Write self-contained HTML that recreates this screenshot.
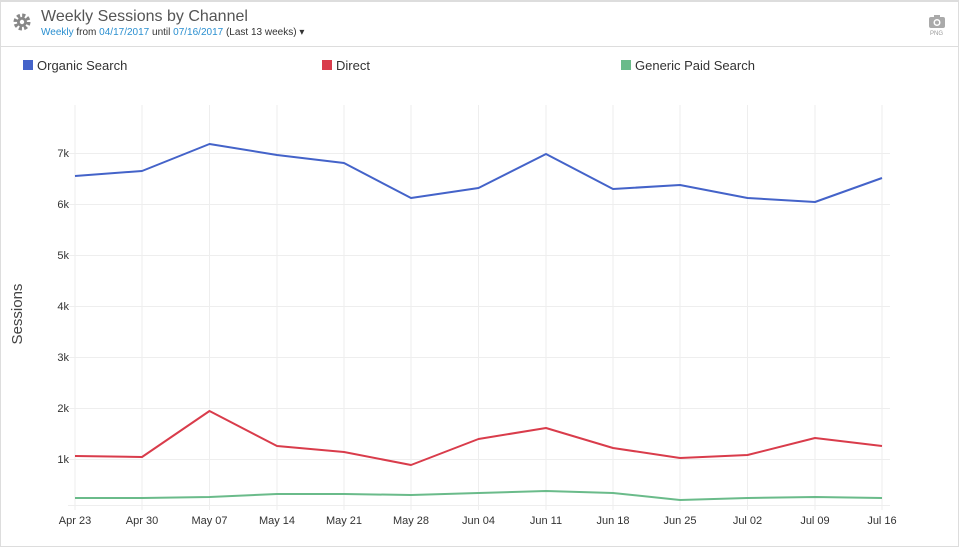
<!DOCTYPE html><html><head><style>
body{margin:0;width:959px;height:546px;background:#fff;font-family:"Liberation Sans",sans-serif;position:relative;overflow:hidden}
.t{position:absolute;left:41px;top:8px;font-size:16px;color:#555}
.s{position:absolute;left:41px;top:27px;font-size:10px;color:#333}
.s b{font-weight:normal;color:#2a8fd0}
</style></head><body>
<div style="position:absolute;left:0;top:0;width:957px;height:544px;border:1px solid #ddd;border-top:2px solid #ddd"></div>
<div style="position:absolute;left:0;top:46px;width:959px;height:1px;background:#ddd"></div>
<svg style="position:absolute;left:12px;top:12px" width="20" height="20" viewBox="0 0 20 20"><circle cx="10" cy="10" r="6.5" fill="none" stroke="#888" stroke-width="4" stroke-dasharray="3 2.1"/><circle cx="10" cy="10" r="5" fill="#888"/><circle cx="10" cy="10" r="2.2" fill="#fff"/></svg>
<div class="t">Weekly Sessions by Channel</div>
<div class="s"><b>Weekly</b> from <b>04/17/2017</b> until <b>07/16/2017</b> (Last 13 weeks) ▾</div>
<svg style="position:absolute;left:928px;top:13px" width="18" height="16"><rect x="1" y="4" width="16" height="11" rx="2" fill="#aaa"/><rect x="6" y="2" width="6" height="3" fill="#aaa"/><circle cx="9" cy="9.5" r="3.5" fill="#fff"/><circle cx="9" cy="9.5" r="2" fill="#aaa"/></svg>
<div style="position:absolute;left:930px;top:31px;font-size:6px;color:#999">PNG</div>
<svg style="position:absolute;left:0;top:0" width="959" height="546" font-family="Liberation Sans, sans-serif">
<g font-size="13" fill="#333">
<rect x="23" y="60" width="10" height="10" fill="#4463c9"/><text x="37" y="70">Organic Search</text>
<rect x="322" y="60" width="10" height="10" fill="#d93c4b"/><text x="336" y="70">Direct</text>
<rect x="621" y="60" width="10" height="10" fill="#6abb8a"/><text x="635" y="70">Generic Paid Search</text>
</g>
<g stroke="#eee" stroke-width="1">
<line x1="68" x2="890" y1="153.5" y2="153.5"/><line x1="68" x2="890" y1="204.5" y2="204.5"/><line x1="68" x2="890" y1="255.5" y2="255.5"/><line x1="68" x2="890" y1="306.5" y2="306.5"/><line x1="68" x2="890" y1="357.5" y2="357.5"/><line x1="68" x2="890" y1="408.5" y2="408.5"/><line x1="68" x2="890" y1="459.5" y2="459.5"/><line x1="68" x2="890" y1="505.5" y2="505.5"/>
<line x1="75" x2="75" y1="105" y2="510"/><line x1="142" x2="142" y1="105" y2="510"/><line x1="209.5" x2="209.5" y1="105" y2="510"/><line x1="277" x2="277" y1="105" y2="510"/><line x1="344" x2="344" y1="105" y2="510"/><line x1="411" x2="411" y1="105" y2="510"/><line x1="478.5" x2="478.5" y1="105" y2="510"/><line x1="546" x2="546" y1="105" y2="510"/><line x1="613" x2="613" y1="105" y2="510"/><line x1="680" x2="680" y1="105" y2="510"/><line x1="747.5" x2="747.5" y1="105" y2="510"/><line x1="815" x2="815" y1="105" y2="510"/><line x1="882" x2="882" y1="105" y2="510"/>
</g>
<g font-size="11" fill="#333" text-anchor="end">
<text x="69" y="157">7k</text><text x="69" y="208">6k</text><text x="69" y="259">5k</text><text x="69" y="310">4k</text><text x="69" y="361">3k</text><text x="69" y="412">2k</text><text x="69" y="463">1k</text>
</g>
<g font-size="11" fill="#333" text-anchor="middle">
<text x="75" y="524">Apr 23</text><text x="142" y="524">Apr 30</text><text x="209.5" y="524">May 07</text><text x="277" y="524">May 14</text><text x="344" y="524">May 21</text><text x="411" y="524">May 28</text><text x="478.5" y="524">Jun 04</text><text x="546" y="524">Jun 11</text><text x="613" y="524">Jun 18</text><text x="680" y="524">Jun 25</text><text x="747.5" y="524">Jul 02</text><text x="815" y="524">Jul 09</text><text x="882" y="524">Jul 16</text>
</g>
<text transform="translate(22,314) rotate(-90)" font-size="15" fill="#444" text-anchor="middle">Sessions</text>
<g fill="none" stroke-width="2" stroke-linejoin="round">
<polyline stroke="#4463c9" points="75,176 142,171 209.5,144 277,155 344,163 411,198 478.5,188 546,154 613,189 680,185 747.5,198 815,202 882,178"/>
<polyline stroke="#d93c4b" points="75,456 142,457 209.5,411 277,446 344,452 411,465 478.5,439 546,428 613,448 680,458 747.5,455 815,438 882,446"/>
<polyline stroke="#6abb8a" points="75,498 142,498 209.5,497 277,494 344,494 411,495 478.5,493 546,491 613,493 680,500 747.5,498 815,497 882,498"/>
</g>
</svg>
</body></html>
